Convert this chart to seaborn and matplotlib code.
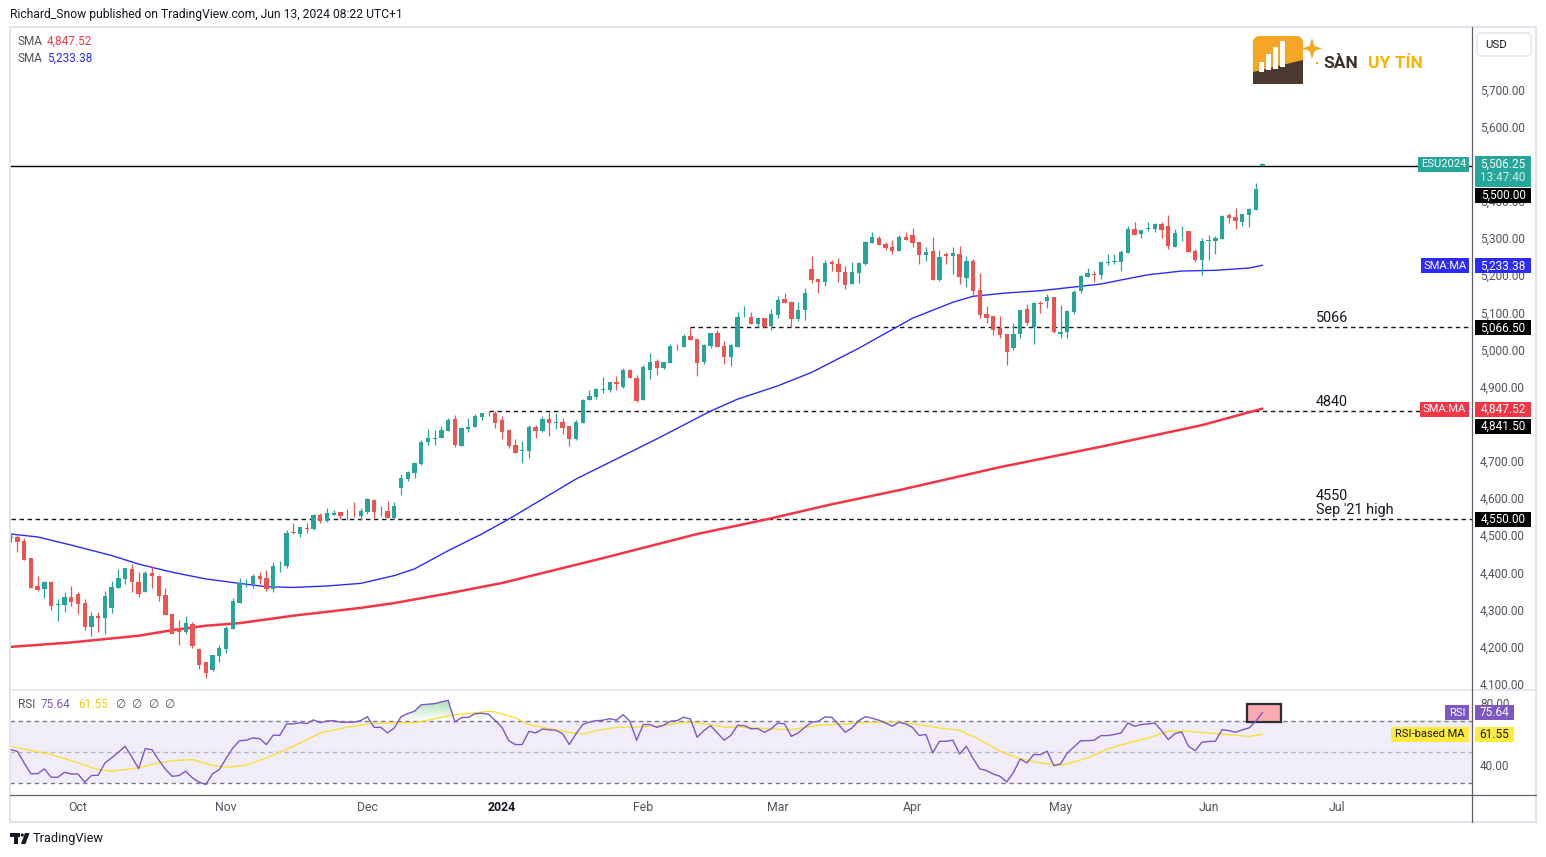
import numpy as np
import matplotlib
matplotlib.use("Agg")
import matplotlib.pyplot as plt
import seaborn as sns
from matplotlib.patches import Rectangle, FancyBboxPatch, Polygon, Circle
from matplotlib.path import Path
from matplotlib.colors import LinearSegmentedColormap

# ---------------- data (bar index 0 = Oct 2 2023, first bar = Sep 18 2023) ----------------
first_bar = -10
opens = [
 4499, 4501, 4490, 4444, 4369, 4363, 4381, 4320, 4320, 4340,
 4348, 4324, 4260, 4289, 4285, 4312, 4365, 4389, 4416, 4380,
 4355, 4405, 4397, 4346, 4295, 4254, 4247, 4268, 4201, 4165,
 4145, 4182, 4201, 4255, 4325, 4377, 4374, 4397, 4392, 4363,
 4426, 4425, 4515, 4511, 4526, 4524, 4561, 4546, 4562, 4568,
 4563, 4564, 4559, 4570, 4602, 4571, 4572, 4554, 4635, 4658,
 4675, 4698, 4759, 4767, 4769, 4788, 4820, 4748, 4794, 4799,
 4826, 4834, 4836, 4817, 4790, 4750, 4733, 4734, 4798, 4788,
 4820, 4810, 4811, 4801, 4766, 4810, 4871, 4879, 4899, 4898,
 4920, 4906, 4952, 4930, 4871, 4952, 4975, 4957, 4970, 5017,
 5014, 5043, 5035, 4973, 5016, 5051, 5016, 4987, 5014, 5093,
 5094, 5076, 5092, 5070, 5100, 5143, 5135, 5090, 5113, 5223,
 5197, 5189, 5241, 5237, 5215, 5184, 5213, 5237, 5294, 5307,
 5291, 5283, 5273, 5309, 5315, 5295, 5262, 5272, 5195, 5264,
 5258, 5264, 5199, 5245, 5167, 5101, 5097, 5065, 5048, 5011,
 5049, 5116, 5066, 5132, 5138, 5148, 5049, 5055, 5108, 5165,
 5203, 5210, 5208, 5240, 5243, 5241, 5267, 5331, 5318, 5332,
 5332, 5345, 5339, 5284, 5325, 5326, 5272, 5249, 5300, 5300,
 5305, 5369, 5363, 5351, 5370, 5383, 5502,
]
highs = [
 4510, 4510, 4500, 4446, 4396, 4384, 4383, 4335, 4355, 4370,
 4353, 4335, 4301, 4299, 4357, 4384, 4416, 4418, 4429, 4407,
 4411, 4425, 4400, 4365, 4295, 4278, 4289, 4272, 4204, 4165,
 4184, 4212, 4263, 4338, 4391, 4389, 4403, 4408, 4413, 4434,
 4438, 4522, 4540, 4529, 4540, 4564, 4566, 4580, 4575, 4568,
 4577, 4596, 4580, 4608, 4605, 4585, 4599, 4596, 4672, 4680,
 4703, 4763, 4792, 4790, 4802, 4822, 4830, 4797, 4821, 4832,
 4835, 4841, 4841, 4827, 4790, 4766, 4760, 4803, 4803, 4827,
 4839, 4836, 4822, 4801, 4817, 4873, 4898, 4903, 4933, 4920,
 4935, 4957, 4954, 4938, 4965, 4997, 4981, 4972, 5021, 5022,
 5048, 5066, 5035, 5022, 5051, 5059, 5030, 5022, 5108, 5123,
 5107, 5094, 5092, 5116, 5151, 5159, 5138, 5135, 5172, 5258,
 5197, 5247, 5248, 5253, 5232, 5242, 5242, 5298, 5322, 5311,
 5295, 5302, 5315, 5322, 5334, 5295, 5282, 5310, 5275, 5268,
 5282, 5285, 5258, 5250, 5213, 5124, 5097, 5096, 5048, 5079,
 5113, 5129, 5135, 5136, 5156, 5148, 5127, 5113, 5167, 5207,
 5226, 5218, 5245, 5264, 5264, 5275, 5339, 5350, 5328, 5350,
 5347, 5350, 5370, 5331, 5340, 5326, 5277, 5307, 5315, 5312,
 5369, 5373, 5388, 5371, 5388, 5456, 5509,
]
lows = [
 4488, 4462, 4441, 4364, 4357, 4338, 4306, 4277, 4301, 4315,
 4295, 4252, 4236, 4245, 4241, 4297, 4365, 4375, 4355, 4341,
 4355, 4365, 4330, 4293, 4242, 4212, 4242, 4204, 4146, 4123,
 4142, 4166, 4190, 4255, 4325, 4366, 4365, 4375, 4357, 4355,
 4408, 4418, 4511, 4502, 4514, 4522, 4539, 4543, 4562, 4550,
 4549, 4557, 4547, 4564, 4554, 4559, 4552, 4552, 4615, 4653,
 4661, 4696, 4750, 4750, 4768, 4788, 4745, 4748, 4785, 4799,
 4818, 4828, 4796, 4766, 4742, 4729, 4702, 4715, 4769, 4785,
 4775, 4794, 4779, 4748, 4764, 4810, 4871, 4874, 4889, 4893,
 4898, 4903, 4930, 4865, 4871, 4926, 4939, 4954, 4970, 5006,
 5014, 5033, 4936, 4968, 5011, 5014, 4968, 4961, 5014, 5093,
 5076, 5067, 5067, 5060, 5092, 5133, 5066, 5084, 5087, 5187,
 5160, 5179, 5219, 5189, 5170, 5184, 5187, 5235, 5294, 5289,
 5275, 5265, 5273, 5302, 5284, 5238, 5246, 5195, 5191, 5238,
 5210, 5182, 5176, 5153, 5092, 5079, 5047, 5039, 4966, 5006,
 5039, 5073, 5022, 5106, 5119, 5051, 5039, 5039, 5101, 5158,
 5203, 5188, 5197, 5234, 5236, 5218, 5267, 5316, 5308, 5326,
 5324, 5308, 5276, 5284, 5300, 5270, 5241, 5208, 5249, 5264,
 5305, 5348, 5332, 5340, 5337, 5383, 5502,
]
closes = [
 4502, 4489, 4441, 4365, 4360, 4382, 4317, 4321, 4340, 4327,
 4322, 4260, 4289, 4284, 4343, 4367, 4391, 4418, 4380, 4349,
 4405, 4398, 4344, 4293, 4242, 4247, 4270, 4208, 4158, 4135,
 4184, 4204, 4257, 4330, 4378, 4379, 4397, 4389, 4363, 4423,
 4427, 4513, 4514, 4529, 4523, 4561, 4546, 4567, 4566, 4559,
 4564, 4563, 4572, 4605, 4569, 4572, 4554, 4585, 4661, 4677,
 4700, 4758, 4768, 4768, 4789, 4817, 4750, 4795, 4797, 4827,
 4835, 4832, 4810, 4785, 4748, 4729, 4735, 4798, 4788, 4820,
 4810, 4811, 4795, 4766, 4811, 4871, 4882, 4900, 4900, 4920,
 4913, 4952, 4930, 4868, 4960, 4973, 4957, 4972, 5017, 5015,
 5042, 5033, 4970, 5019, 5051, 5014, 4987, 5019, 5094, 5094,
 5076, 5092, 5067, 5102, 5140, 5133, 5090, 5113, 5159, 5195,
 5189, 5240, 5238, 5216, 5181, 5215, 5240, 5295, 5309, 5289,
 5281, 5273, 5309, 5302, 5293, 5262, 5269, 5195, 5256, 5258,
 5267, 5203, 5245, 5165, 5100, 5092, 5060, 5047, 5001, 5048,
 5113, 5079, 5133, 5130, 5148, 5055, 5053, 5110, 5161, 5205,
 5213, 5208, 5242, 5241, 5245, 5269, 5331, 5316, 5328, 5333,
 5345, 5329, 5286, 5320, 5326, 5270, 5249, 5299, 5301, 5307,
 5366, 5362, 5353, 5371, 5385, 5439, 5506.25,
]
rsi_values = [
 51.7, 50.6, 43.1, 36.2, 36.2, 39.3, 33.9, 33.9, 37.1, 36.0,
 36.0, 30.7, 35.0, 35.2, 43.1, 46.4, 50.0, 53.9, 47.0, 39.5,
 52.4, 51.7, 45.0, 39.0, 34.5, 35.0, 37.8, 33.5, 30.7, 29.2,
 36.2, 38.8, 46.0, 52.8, 57.5, 57.8, 59.3, 58.8, 55.0, 61.0,
 61.0, 68.3, 68.3, 69.1, 68.5, 70.9, 69.1, 70.2, 70.4, 69.4,
 69.4, 69.4, 70.4, 73.0, 66.1, 66.1, 62.5, 65.7, 73.0, 75.0,
 76.5, 80.7, 81.0, 81.4, 82.5, 83.5, 69.6, 72.4, 72.6, 74.9,
 75.2, 74.6, 70.5, 66.1, 57.5, 55.0, 55.0, 63.5, 62.5, 65.0,
 64.5, 64.2, 62.0, 55.0, 62.0, 67.9, 69.5, 70.4, 70.7, 71.7,
 70.7, 74.3, 70.0, 57.8, 67.9, 67.9, 66.1, 67.4, 70.0, 70.4,
 72.6, 71.5, 59.7, 64.0, 67.2, 62.5, 57.8, 60.8, 67.4, 67.2,
 65.1, 65.3, 62.9, 65.2, 68.9, 68.3, 60.3, 62.5, 66.1, 69.4,
 70.0, 72.8, 72.6, 68.0, 62.9, 65.7, 70.4, 73.0, 72.0, 70.7,
 68.9, 66.8, 69.4, 68.3, 66.0, 60.8, 61.5, 49.6, 57.1, 57.1,
 57.8, 48.9, 53.9, 46.0, 39.3, 38.2, 36.0, 34.5, 30.9, 37.0,
 45.7, 43.1, 48.5, 48.5, 50.7, 41.4, 42.5, 49.6, 53.5, 57.5,
 57.5, 57.8, 60.8, 60.8, 61.5, 62.5, 68.9, 66.8, 67.9, 68.3,
 68.9, 64.0, 58.2, 62.1, 63.1, 53.9, 51.1, 56.5, 57.0, 57.1,
 64.6, 64.0, 62.9, 64.5, 65.7, 70.0, 75.64,
]
# moving-average lines (bar index, value)
sma50_bars = [-10, -6, -1, 5, 9, 14, 19, 24, 28, 32, 37, 42, 47, 50, 55, 60, 64, 74, 86, 94,
              98, 104, 109, 116, 124, 130, 133, 138, 143, 147, 152, 155, 159, 164, 169, 174, 176]
sma50_vals = [4510, 4502, 4480, 4452, 4429, 4407, 4389, 4377, 4368, 4366, 4370, 4377, 4398, 4416,
              4465, 4510, 4550, 4658, 4766, 4841, 4873, 4909, 4945, 5010, 5091, 5134, 5150, 5159,
              5165, 5173, 5183, 5194, 5208, 5218, 5220, 5226, 5233.38]
sma200_bars = [-10, -1, 9, 14, 19, 24, 32, 42, 47, 55, 63, 78, 92, 102, 112, 122, 137, 152, 167, 176]
sma200_vals = [4206, 4218, 4236, 4251, 4263, 4270, 4290, 4311, 4324, 4350, 4378, 4445, 4510, 4548,
               4590, 4628, 4690, 4745, 4803, 4847.52]
rsi_ma_bars = [-10, -8, -4, -1, 3, 5, 9, 12, 14, 17, 20, 22, 25, 28, 32, 36, 40, 43, 47, 50, 53, 56,
               58, 61, 62, 65, 67, 70, 73, 75, 77, 80, 83, 87, 89, 91, 94, 96, 99, 103, 106, 110,
               114, 118, 122, 125, 128, 131, 134, 137, 140, 143, 146, 147, 150, 153, 156, 159, 162,
               165, 168, 171, 174, 176]
rsi_ma_vals = [53.9, 52.2, 48.5, 44.6, 38.8, 37.8, 39.9, 43.1, 44.6, 45.3, 41.6, 40.3, 41.6, 46.4,
               53.9, 62.5, 66.1, 68.3, 69.1, 69.1, 71.7, 74.3, 74.9, 76.5, 76.0, 72.2, 67.9, 65.3,
               62.9, 61.8, 64.0, 66.1, 66.3, 67.2, 68.9, 69.4, 67.9, 66.3, 66.1, 65.1, 64.6, 67.4,
               68.3, 69.4, 69.6, 67.9, 65.7, 64.2, 58.2, 50.7, 45.9, 43.1, 41.6, 42.5, 46.4, 52.2,
               56.0, 59.3, 63.6, 63.6, 62.5, 61.4, 60.3, 61.55]
month_labels = ["Oct", "Nov", "Dec", "2024", "Feb", "Mar", "Apr", "May", "Jun", "Jul"]
month_bars = [0, 22, 43, 63, 84, 104, 124, 146, 168, 187]
price_ticks = [5700, 5600, 5400, 5300, 5200, 5100, 5000, 4900, 4800, 4700, 4600, 4500, 4400, 4300, 4200, 4100]
rsi_ticks = [80, 60, 40]
level_values = [5066.5, 4841.5, 4550.0]
level_start_bars = [91, 61, -10]
level_notes = ["5066", "4840", "4550\nSep '21 high"]
last_price = 5506.25
sma200_last, sma50_last = 4847.52, 5233.38
rsi_last, rsi_ma_last = 75.64, 61.55

# ---------------- styling / layout ----------------
sns.set_theme(style="white")
plt.rcParams['font.family'] = ['Roboto', 'DejaVu Sans']
W, H = 1546, 857
fig = plt.figure(figsize=(W / 100, H / 100), dpi=100)
fig.patch.set_facecolor('white')

GREEN, RED = '#26a69a', '#ef5350'
BLUE, SMARED = '#2b2bff', '#f23645'
PURPLE, YELLOW = '#7e57c2', '#f5e13b'
TXT, GRAY = '#131722', '#50535e'

PL, PR = 10, 1472
PT, PB = 28, 690
RT, RB = 690, 795
X0, BW = 78, 6.73


def add_ax(x0, y0, x1, y1, z=1):
    a = fig.add_axes([x0 / W, 1 - y1 / H, (x1 - x0) / W, (y1 - y0) / H], zorder=z)
    a.set_facecolor('none')
    return a


def py(p):
    return 352 - (p - 5000) * 0.3714


def ry(r):
    return 721.3 - (r - 70) * 1.55


xlim = ((PL - X0) / BW, (PR - X0) / BW)

# ---- price pane ----
ax_p = add_ax(PL, PT, PR, PB)
ax_p.set_xlim(*xlim)
ax_p.set_ylim(5000 + (352 - PB) / 0.3714, 5000 + (352 - PT) / 0.3714)
ax_p.axis('off')

bars = np.arange(first_bar, first_bar + len(closes))
o, h, l, c = map(np.asarray, (opens, highs, lows, closes))
cols = np.where(c >= o, GREEN, RED)
ax_p.vlines(bars, l, h, colors=cols, lw=0.9, zorder=4)
ax_p.bar(bars, np.maximum(np.abs(c - o), 1.0), bottom=np.minimum(o, c), width=0.64,
         color=cols, lw=0, zorder=5)

sns.lineplot(x=sma200_bars, y=sma200_vals, ax=ax_p, color=SMARED, lw=1.8, sort=False,
             estimator=None, legend=False, zorder=3)
sns.lineplot(x=sma50_bars, y=sma50_vals, ax=ax_p, color=BLUE, lw=1.0, sort=False,
             estimator=None, legend=False, zorder=3)

ax_p.axhline(5500, color='black', lw=1.0, zorder=2)
for v, sb in zip(level_values, level_start_bars):
    ax_p.hlines(v, sb, xlim[1], colors=TXT, linestyles=(0, (3.2, 2.6)), lw=1.0, zorder=2)

# ---- RSI pane ----
ax_r = add_ax(PL, RT, PR, RB)
ax_r.set_xlim(*xlim)
rlim = (70 - (RB - 721.3) / 1.55, 70 - (RT - 721.3) / 1.55)
ax_r.set_ylim(*rlim)
ax_r.axis('off')
ax_r.axhspan(30, 70, color=PURPLE, alpha=0.10, lw=0, zorder=1)
ax_r.axhline(70, color='#787b86', lw=1.0, ls=(0, (3.2, 2.6)), zorder=2)
ax_r.axhline(50, color='#b2b5be', lw=1.0, ls=(0, (3.2, 2.6)), zorder=2)
ax_r.axhline(30, color='#787b86', lw=1.0, ls=(0, (3.2, 2.6)), zorder=2)
rsi = np.asarray(rsi_values)
poly = ax_r.fill_between(bars, 70, rsi, where=rsi > 70, interpolate=True, color='none', lw=0)
paths = poly.get_paths()
if paths:
    cp = Path.make_compound_path(*paths)
    cmap = LinearSegmentedColormap.from_list('g', [(0.3, 0.75, 0.4, 0.0), (0.3, 0.72, 0.4, 0.55)])
    im = ax_r.imshow(np.linspace(0, 1, 100).reshape(-1, 1), extent=[xlim[0], xlim[1], 70, 85],
                     origin='lower', cmap=cmap, aspect='auto', zorder=2, interpolation='bilinear')
    im.set_clip_path(cp, transform=ax_r.transData)
ax_r.set_xlim(*xlim)
ax_r.set_ylim(*rlim)
ax_r.add_patch(Rectangle((173.7, 69.5), 5.1, 11.7, fc='#f7aab0', ec='#2a2e39', lw=1.6, zorder=3))
sns.lineplot(x=rsi_ma_bars, y=rsi_ma_vals, ax=ax_r, color=YELLOW, lw=1.0, sort=False,
             estimator=None, legend=False, zorder=4)
sns.lineplot(x=bars, y=rsi, ax=ax_r, color=PURPLE, lw=1.0, sort=False,
             estimator=None, legend=False, zorder=5)

# ---- price scale ----
ax_ps = add_ax(PR, PT, 1536, PB, z=2)
ax_ps.set_xlim(PR, 1536)
ax_ps.set_ylim(PB, PT)
ax_ps.axis('off')
for v in price_ticks:
    ax_ps.text(1480, py(v) - 1, f"{v:,.2f}", fontsize=8.5, color=GRAY, ha='left', va='center',
               clip_on=True)
ax_rs = add_ax(PR, RT, 1536, RB, z=2)
ax_rs.set_xlim(PR, 1536)
ax_rs.set_ylim(RB, RT)
ax_rs.axis('off')
for v in rsi_ticks:
    ax_rs.text(1480, ry(v) - 1, f"{v:.2f}", fontsize=8.5, color=GRAY, ha='left', va='center',
               clip_on=True)

# ---- overlay in pixel coordinates ----
ax_o = fig.add_axes([0, 0, 1, 1], zorder=10)
ax_o.set_xlim(0, W)
ax_o.set_ylim(H, 0)
ax_o.axis('off')
ax_o.set_facecolor('none')

ax_o.add_patch(Rectangle((10, 27), 1526, 795, fill=False, ec='#e0e3eb', lw=1.4))
ax_o.plot([10, 1536], [690, 690], color='#e0e3eb', lw=1.2)
ax_o.plot([PR, PR], [27, 822], color='#5d606b', lw=0.9)
ax_o.plot([10, 1536], [795, 795], color='#5d606b', lw=0.9)


def box(x0, y0, x1, y1, fc, txt=None, tc='white', fs=8.5, tx=None, ty=None, ha='center'):
    ax_o.add_patch(Rectangle((x0, y0), x1 - x0, y1 - y0, fc=fc, ec='none', zorder=20))
    if txt is not None:
        ax_o.text((x0 + x1) / 2 if tx is None else tx, (y0 + y1) / 2 if ty is None else ty, txt,
                  color=tc, fontsize=fs, ha=ha, va='center', zorder=21)


# last price
yl = py(last_price)
box(1418, yl - 7, 1469, yl + 8, GREEN, "ESU2024", fs=8.0)
box(1475, yl - 8, 1531, yl + 23, GREEN)
ax_o.text(1503, yl, f"{last_price:,.2f}", color='white', fontsize=8.5, ha='center', va='center', zorder=21)
ax_o.text(1503, yl + 14, "13:47:40", color='#d2efec', fontsize=8.5, ha='center', va='center', zorder=21)
box(1475, 188, 1531, 203, 'black', "5,500.00")
# SMA 50
y5 = py(sma50_last)
box(1421, y5 - 7, 1469, y5 + 8, BLUE, "SMA:MA", fs=8.0)
box(1475, y5 - 7, 1531, y5 + 8, BLUE, f"{sma50_last:,.2f}")
# 5066.5
y6 = py(level_values[0])
box(1475, y6 - 7, 1531, y6 + 8, 'black', f"{level_values[0]:,.2f}")
# SMA 200
y2 = py(sma200_last)
box(1420, y2 - 7, 1469, y2 + 8, SMARED, "SMA:MA", fs=8.0)
box(1475, y2 - 7, 1531, y2 + 8, SMARED, f"{sma200_last:,.2f}")
box(1475, 419, 1531, 434, 'black', f"{level_values[1]:,.2f}")
y45 = py(level_values[2])
box(1475, y45 - 7, 1531, y45 + 8, 'black', f"{level_values[2]:,.2f}")
# RSI labels
yr = ry(rsi_last)
box(1445, yr - 7.5, 1469, yr + 7.5, PURPLE, "RSI", fs=8.0)
box(1475, yr - 7.5, 1514, yr + 7.5, PURPLE, f"{rsi_last:.2f}")
ym = ry(rsi_ma_last)
box(1391, ym - 7.5, 1469, ym + 7.5, '#ffeb3b', "RSI-based MA", tc=TXT, fs=8.0)
box(1475, ym - 7.5, 1514, ym + 7.5, '#ffeb3b', f"{rsi_ma_last:.2f}", tc=TXT)

# USD box
ax_o.add_patch(FancyBboxPatch((1477, 33), 54, 23, boxstyle='round,pad=0,rounding_size=4',
                              fc='white', ec='#e0e3eb', lw=1.0, zorder=20))
ax_o.text(1485, 44.5, "USD", fontsize=8.2, color=TXT, ha='left', va='center', zorder=21)

# level notes
for v, note in zip(level_values, level_notes):
    yy = py(v)
    lines = note.split("\n")
    for k, line in enumerate(lines):
        ax_o.text(1316, yy - 9 - 14 * (len(lines) - 1 - k), line, fontsize=10.4, color=TXT,
                  ha='left', va='center', zorder=21)

# time axis
for lab, b in zip(month_labels, month_bars):
    xx = X0 + BW * b
    if xx < PR:
        ax_o.text(xx, 807.5, lab, fontsize=8.8, ha='center', va='center',
                  color=TXT if lab == "2024" else GRAY,
                  fontweight='bold' if lab == "2024" else 'normal', zorder=21)

# header + legend
ax_o.text(10, 14, "Richard_Snow published on TradingView.com, Jun 13, 2024 08:22 UTC+1",
          fontsize=8.7, color=TXT, ha='left', va='center')
ax_o.text(18, 41.5, "SMA", fontsize=8.5, color=GRAY, ha='left', va='center')
ax_o.text(47, 41.5, f"{sma200_last:,.2f}", fontsize=8.5, color=SMARED, ha='left', va='center')
ax_o.text(18, 58.5, "SMA", fontsize=8.5, color=GRAY, ha='left', va='center')
ax_o.text(47, 58.5, f"{sma50_last:,.2f}", fontsize=8.5, color=BLUE, ha='left', va='center')

# RSI header
ax_o.text(18, 704.5, "RSI", fontsize=8.5, color=GRAY, ha='left', va='center')
ax_o.text(41, 704.5, f"{rsi_last:.2f}", fontsize=8.5, color=PURPLE, ha='left', va='center')
ax_o.text(78, 704.5, f"{rsi_ma_last:.2f}", fontsize=8.5, color='#e8cf1c', ha='left', va='center')
for k in range(4):
    ax_o.text(115 + 16.5 * k, 704.5, "\u2205", fontsize=8.5, color=GRAY, ha='left', va='center',
              family=['DejaVu Sans'])

# TradingView footer logo
ax_o.add_patch(Polygon([(10, 833), (20, 833), (20, 836.5), (17.5, 836.5), (17.5, 844),
                        (14, 844), (14, 836.5), (10, 836.5)], closed=True, fc=TXT, ec='none'))
ax_o.add_patch(Circle((22.3, 835), 1.6, fc=TXT, ec='none'))
ax_o.add_patch(Polygon([(25, 833), (29.5, 833), (25.5, 844), (21, 844)], closed=True, fc=TXT, ec='none'))
ax_o.text(33, 838.5, "TradingView", fontsize=9.2, color=TXT, ha='left', va='center')

# SAN UY TIN logo
ax_o.add_patch(FancyBboxPatch((1253, 36), 50, 48, boxstyle='round,pad=0,rounding_size=7',
                              fc='#f6a524', ec='none', zorder=15))
ax_o.add_patch(Polygon([(1253, 72), (1303, 60), (1303, 84), (1253, 84)], closed=True,
                       fc='#4a3a30', ec='none', zorder=16))
for bx, bt in zip([1259, 1266, 1273, 1280], [62, 54, 47, 41]):
    ax_o.add_patch(Rectangle((bx, bt), 4.5, 72 - bt - (bx - 1259) * 0.24, fc='white', ec='none', zorder=17))
ax_o.add_patch(Polygon([(1312, 38), (1314.5, 46), (1322, 48.5), (1314.5, 51), (1312, 59),
                        (1309.5, 51), (1302, 48.5), (1309.5, 46)], closed=True, fc='#f6a524',
                       ec='none', zorder=17))
ax_o.add_patch(Circle((1317, 63), 1.3, fc='#f6a524', ec='none', zorder=17))
ax_o.text(1323, 63, "SÀN", fontsize=12.5, fontweight='bold', color='#3d3029', ha='left',
          va='center', zorder=17)
ax_o.text(1368, 63, "UY TÍN", fontsize=12.5, fontweight='bold', color='#f5b400', ha='left',
          va='center', zorder=17)

fig.savefig("out.png", dpi=100, facecolor='white')
